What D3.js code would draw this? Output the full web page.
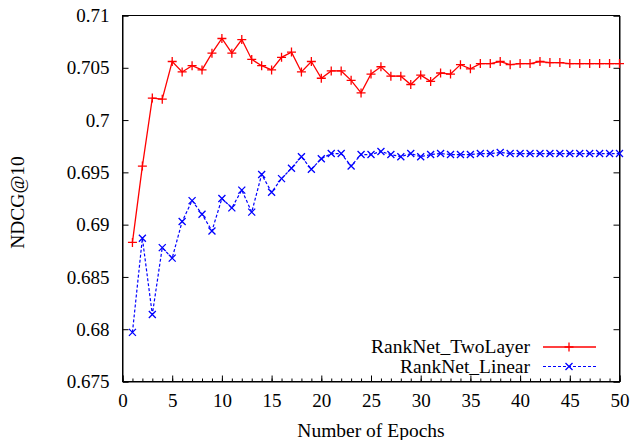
<!DOCTYPE html>
<html>
<head>
<meta charset="utf-8">
<script src="https://cdn.jsdelivr.net/npm/d3@7"></script>
<style>
  body { margin: 0; background: #fff; }
  svg { display: block; font-family: "Liberation Serif", "DejaVu Serif", serif; }
  .axis path, .axis line { stroke: #000; stroke-width: 1; }
  .axis text { font-size: 19px; fill: #000; font-family: "Liberation Serif", serif; }
</style>
</head>
<body>
<svg id="chart" width="634" height="440"></svg>
<script>
// Data
var epochs = d3.range(1, 51);
var twoLayer = [
  0.6883, 0.6956, 0.7021, 0.7020, 0.7056, 0.7046, 0.7052, 0.7048, 0.7064, 0.7078,
  0.7064, 0.7077, 0.7058, 0.7052, 0.7048, 0.7060, 0.7065, 0.7046, 0.7056, 0.7040,
  0.7047, 0.7047, 0.7038, 0.7026, 0.7044, 0.7051, 0.7042, 0.7042, 0.7034, 0.7043,
  0.7037, 0.7045, 0.7044, 0.7053, 0.7049, 0.7054, 0.7054, 0.7056, 0.7053, 0.7054,
  0.7054, 0.7056, 0.7055, 0.7055, 0.7054, 0.7054, 0.7054, 0.7054, 0.7054, 0.7054
];
var linear = [
  0.6797, 0.6887, 0.6814, 0.6878, 0.6868, 0.6903, 0.6923, 0.6910, 0.6894, 0.6925,
  0.6916, 0.6933, 0.6912, 0.6948, 0.6931, 0.6944, 0.6954, 0.6965, 0.6953, 0.6963,
  0.6968, 0.6968, 0.6956, 0.6967, 0.6967, 0.6970, 0.6967, 0.6965, 0.6968, 0.6965,
  0.6967, 0.6968, 0.6967, 0.6967, 0.6967, 0.6968, 0.6968, 0.6969, 0.6968, 0.6968,
  0.6968, 0.6968, 0.6968, 0.6968, 0.6968, 0.6968, 0.6968, 0.6968, 0.6968, 0.6968
];
var seriesNames = ['RankNet_TwoLayer', 'RankNet_Linear'];
var xTicks = [0, 5, 10, 15, 20, 25, 30, 35, 40, 45, 50];
var yTicks = [0.675, 0.68, 0.685, 0.69, 0.695, 0.7, 0.705, 0.71];

var svg = d3.select('#chart');
var plotLeft = 122.5, plotRight = 619.5, plotTop = 15.5, plotBottom = 381.5;

var x = d3.scaleLinear().domain([0, 50]).range([plotLeft, plotRight]);
var y = d3.scaleLinear().domain([0.675, 0.71]).range([plotBottom, plotTop]);

// Minor x ticks
svg.append('g')
   .attr('class', 'axis')
   .attr('transform', 'translate(0,' + plotBottom + ')')
   .call(d3.axisBottom(x).tickValues(d3.range(0, 51)).tickSize(-3).tickFormat(''))
   .select('.domain').remove();

// Major x ticks
svg.append('g')
   .attr('class', 'axis')
   .attr('transform', 'translate(0,' + plotBottom + ')')
   .call(d3.axisBottom(x).tickValues(xTicks).tickSize(-6).tickPadding(12).tickFormat(d3.format('d')));

svg.append('g')
   .attr('class', 'axis')
   .attr('transform', 'translate(' + plotLeft + ',0)')
   .call(d3.axisLeft(y).tickValues(yTicks).tickSize(-6).tickPadding(13)
     .tickFormat(function (d) { return String(+d.toFixed(3)); }));

svg.append('g')
   .attr('class', 'axis')
   .attr('transform', 'translate(' + plotRight + ',0)')
   .call(d3.axisRight(y).tickValues(yTicks).tickSize(-6).tickFormat(''));

// Frame
svg.append('rect')
   .attr('x', plotLeft).attr('y', plotTop)
   .attr('width', plotRight - plotLeft).attr('height', plotBottom - plotTop)
   .attr('fill', 'none').attr('stroke', '#000').attr('stroke-width', 1);

// Titles
svg.append('text')
   .attr('x', (plotLeft + plotRight) / 2).attr('y', 437)
   .attr('text-anchor', 'middle').attr('font-size', 19.5)
   .text('Number of Epochs');
svg.append('text')
   .attr('transform', 'translate(24,' + ((plotTop + plotBottom) / 2 + 4) + ') rotate(-90)')
   .attr('text-anchor', 'middle').attr('font-size', 19.5)
   .text('NDCG@10');

var line = d3.line()
  .x(function (d) { return x(d[0]); })
  .y(function (d) { return y(d[1]); });

function plusPath(s) {
  return 'M' + (-s) + ',0H' + s + 'M0,' + (-s) + 'V' + s;
}
function crossPath(s) {
  return 'M' + (-s) + ',' + (-s) + 'L' + s + ',' + s + 'M' + (-s) + ',' + s + 'L' + s + ',' + (-s);
}

var series = [
  { name: seriesNames[0], values: twoLayer, color: '#ff0000', dash: null, marker: plusPath(4.5), width: 1.3 },
  { name: seriesNames[1], values: linear, color: '#0000ff', dash: '3,2', marker: crossPath(3.5), width: 1.2 }
];

series.forEach(function (s, k) {
  var pts = epochs.map(function (e, i) { return [e, s.values[i]]; });
  svg.append('path')
     .attr('d', line(pts))
     .attr('fill', 'none')
     .attr('stroke', s.color)
     .attr('stroke-width', s.width)
     .attr('stroke-dasharray', s.dash);
  svg.append('g').selectAll('path')
     .data(pts)
     .enter()
     .append('path')
     .attr('transform', function (d) { return 'translate(' + x(d[0]) + ',' + y(d[1]) + ')'; })
     .attr('d', s.marker)
     .attr('stroke', s.color)
     .attr('stroke-width', 1.3)
     .attr('fill', 'none');

  // Legend
  var ly = 347 + k * 19.5;
  svg.append('text')
     .attr('x', 530).attr('y', ly + 6)
     .attr('text-anchor', 'end').attr('font-size', 19.5)
     .text(s.name);
  svg.append('line')
     .attr('x1', 543).attr('x2', 596).attr('y1', ly).attr('y2', ly)
     .attr('stroke', s.color).attr('stroke-width', s.width)
     .attr('stroke-dasharray', s.dash);
  svg.append('path')
     .attr('transform', 'translate(569,' + ly + ')')
     .attr('d', s.marker)
     .attr('stroke', s.color).attr('stroke-width', 1.3).attr('fill', 'none');
});
</script>
</body>
</html>
